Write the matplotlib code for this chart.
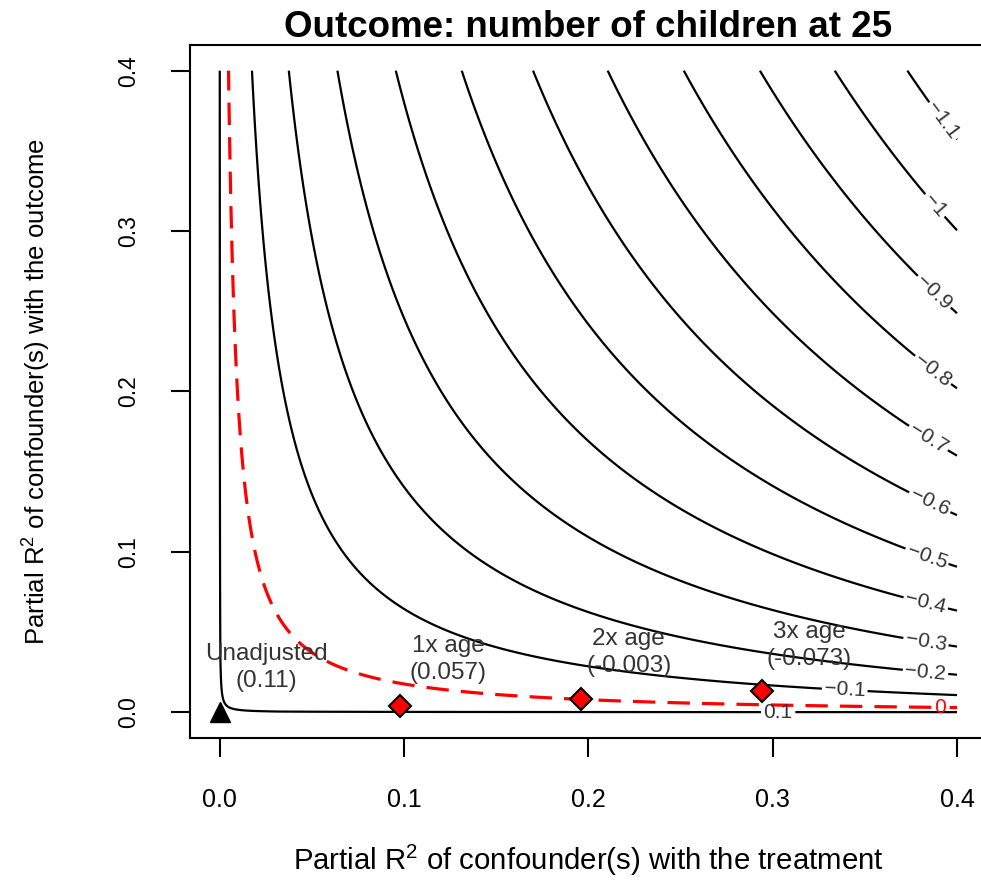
import numpy as np
import matplotlib
matplotlib.use('Agg')
import matplotlib.pyplot as plt

plt.rcParams['font.family'] = ['Liberation Sans', 'DejaVu Sans']
plt.rcParams['mathtext.fontset'] = 'custom'
plt.rcParams['mathtext.rm'] = 'Liberation Sans'
plt.rcParams['mathtext.it'] = 'Liberation Sans:italic'
plt.rcParams['mathtext.bf'] = 'Liberation Sans:bold'
plt.rcParams['contour.negative_linestyle'] = 'solid'

# ---- data ----
title = "Outcome: number of children at 25"
estimate = 0.11          # unadjusted estimate
bias_scale = 2.48        # se * sqrt(dof) of the regression
lim = 0.4
contour_levels = [-1.1, -1.0, -0.9, -0.8, -0.7, -0.6, -0.5, -0.4, -0.3, -0.2, -0.1, 0.1]
threshold = 0.0

bound_labels = ["1x age", "2x age", "3x age"]
bound_r2dz = [0.098, 0.196, 0.294]
bound_r2yz = [0.0042, 0.0085, 0.0131]
bound_adjusted = [0.057, -0.003, -0.073]

xticks = [0.0, 0.1, 0.2, 0.3, 0.4]
yticks = [0.0, 0.1, 0.2, 0.3, 0.4]

# label anchor points (approximate, snapped to the contour)
label_pts = {-1.1: (0.389, 0.366), -1.0: (0.386, 0.314), -0.9: (0.385, 0.259),
             -0.8: (0.384, 0.209), -0.7: (0.384, 0.170), -0.6: (0.384, 0.128),
             -0.5: (0.383, 0.095), -0.4: (0.383, 0.068), -0.3: (0.383, 0.043),
             -0.2: (0.383, 0.026), -0.1: (0.339, 0.012), 0.1: (0.303, 0.0)}

# ---- grid of adjusted estimates ----
r2dz = np.linspace(0, lim, 801)
r2yz = np.linspace(0, lim, 801)
X, Y = np.meshgrid(r2dz, r2yz)
Z = estimate - bias_scale * np.sqrt(Y * X / (1 - X))

fig = plt.figure(figsize=(9.81, 8.81), dpi=100)
ax = fig.add_axes([190/981, (881-738)/881, 796.5/981, 693/881])

def fmt(v):
    s = f"{v:g}"
    return s.replace('-', '\u2212')

cs = ax.contour(X, Y, Z, levels=contour_levels, colors='black', linewidths=1.6,
                linestyles='solid')
ax.clabel(cs, fmt=fmt, fontsize=15, colors='#333333', inline=True, inline_spacing=4,
          manual=[label_pts[l] for l in contour_levels])

cs0 = ax.contour(X, Y, Z, levels=[threshold], colors='red', linewidths=2.3)
cs0.set_linestyle([(0, (7, 3.8))])
ax.clabel(cs0, fmt=fmt, fontsize=15, colors='red', inline=True, inline_spacing=4,
          manual=[(0.391, 0.001)])

# unadjusted point
ax.plot([0], [0], marker='^', color='black', markersize=14, linestyle='none', clip_on=False)
ax.annotate(f"Unadjusted\n({estimate:g})", (0, 0), xytext=(47, 45), textcoords='offset pixels',
            ha='center', va='center', fontsize=17.5, color='#333333', linespacing=1.3)

# bounds
ax.plot(bound_r2dz, bound_r2yz, marker='D', markerfacecolor='red', markeredgecolor='black',
        markeredgewidth=1.5, markersize=11, linestyle='none')
for lab, x, y, adj in zip(bound_labels, bound_r2dz, bound_r2yz, bound_adjusted):
    ax.annotate(f"{lab}\n({adj:g})", (x, y), xytext=(48, 46), textcoords='offset pixels',
                ha='center', va='center', fontsize=17.5, color='#333333', linespacing=1.3)

ax.set_xlim(-0.016, 0.416)
ax.set_ylim(-0.016, 0.416)
ax.set_xticks(xticks)
ax.set_yticks(yticks)
ax.set_xticklabels([f"{t:.1f}" for t in xticks], fontsize=18)
ax.set_yticklabels([f"{t:.1f}" for t in yticks], fontsize=16.5, rotation=90, va='center')
ax.tick_params(axis='both', length=14, width=1.5, direction='out')
ax.tick_params(axis='x', pad=22)
ax.tick_params(axis='y', pad=22)
for sp in ax.spines.values():
    sp.set_linewidth(1.5)

ax.set_xlabel(r"Partial R$^2$ of confounder(s) with the treatment", fontsize=21.2, labelpad=22)
ax.set_ylabel(r"Partial R$^2$ of confounder(s) with the outcome", fontsize=18.5, labelpad=46)
ax.set_title(title, fontsize=26.5, fontweight='bold', pad=6)

fig.savefig('out.png', dpi=100)
